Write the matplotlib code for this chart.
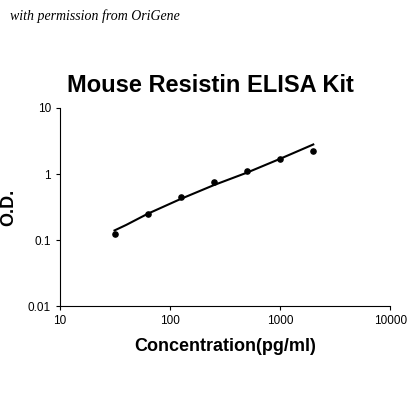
import matplotlib
matplotlib.use("Agg")
import matplotlib.pyplot as plt

conc = [31.25, 62.5, 125, 250, 500, 1000, 2000]
od = [0.123, 0.25, 0.45, 0.75, 1.1, 1.7, 2.2]
fit_x = [31.25, 40, 62.5, 125, 250, 500, 1000, 2000]
fit_y = [0.14, 0.17, 0.25, 0.42, 0.68, 1.05, 1.7, 2.8]
xticks = [10, 100, 1000, 10000]
xlabels = ["10", "100", "1000", "10000"]
yticks = [0.01, 0.1, 1, 10]
ylabels = ["0.01", "0.1", "1", "10"]

fig = plt.figure(figsize=(4.2, 4.2), dpi=100)
ax = fig.add_axes([0.143, 0.271, 0.786, 0.472])
ax.plot(fit_x, fit_y, color="black", lw=1.5)
ax.scatter(conc, od, color="black", s=14, zorder=3)
ax.set_xscale("log"); ax.set_yscale("log")
ax.set_xlim(10, 10000); ax.set_ylim(0.01, 10)
ax.set_xticks(xticks); ax.set_xticklabels(xlabels, fontsize=8.5, family="Liberation Sans")
ax.set_yticks(yticks); ax.set_yticklabels(ylabels, fontsize=8.5, family="Liberation Sans")
ax.minorticks_off()
ax.tick_params(direction="out", length=3)
for s in ["top", "right"]:
    ax.spines[s].set_visible(False)
ax.set_xlabel("Concentration(pg/ml)", fontsize=13, fontweight="bold", family="Liberation Sans", labelpad=8)
ax.set_ylabel("O.D.", fontsize=13, fontweight="bold", family="Liberation Sans", labelpad=8)
fig.text(0.5, 0.797, "Mouse Resistin ELISA Kit", ha="center", va="center",
         fontsize=17, fontweight="bold", family="Liberation Sans")
fig.text(0.024, 0.962, "with permission from OriGene", ha="left", va="center",
         fontsize=10, style="italic", family="Liberation Serif")
fig.savefig("out.png", dpi=100)
